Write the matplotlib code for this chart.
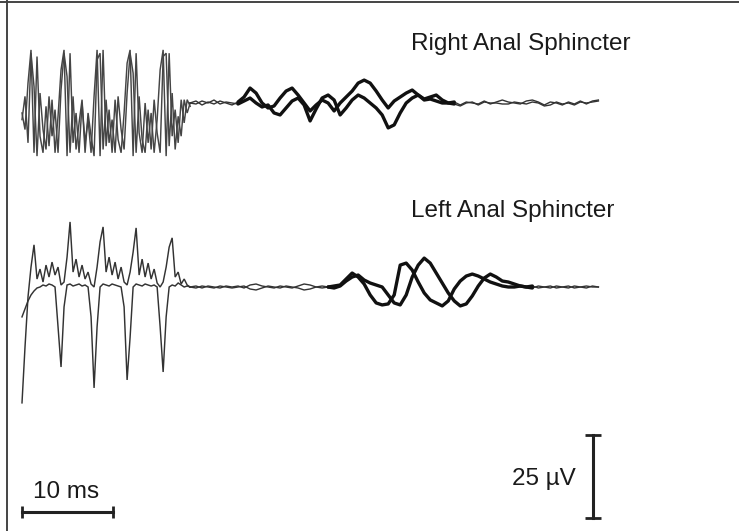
import matplotlib
matplotlib.use("Agg")
import matplotlib.pyplot as plt
import numpy as np

plt.rcParams["font.family"] = ["Liberation Sans", "DejaVu Sans"]

# sampling of the digitised sweeps (ms between samples)
DT_ART = 0.33    # stimulus artefact part
DT_POST = 0.66   # after the artefact
T_POST0 = 18.46  # ms where the artefact ends

# amplitudes in microvolts, relative to each trace's baseline
# right anal sphincter, two superimposed sweeps
right_art_a = [-3, -8, 6, 16, -15, 14, -10, -15, -1, -13,
               1, -15, -4, 10, 16, -16, 15, -12, -3, -15,
               0, -12, -5, -15, 2, 16, -16, 16, -13, -2,
               -15, 1, -11, -15, -3, 12, 16, -16, 15, -9,
               -15, 0, -12, -3, -15, -5, 10, 16, -16, 15,
               -10, -2, -12, 1, -6, 1, -1]
right_art_b = [-5, 2, -12, 15, 5, -16, 3, -8, -14, 2,
               -10, -2, -15, 4, 15, 8, -15, 2, -14, -6,
               1, -15, -3, -10, -16, 13, 15, -14, 1, -12,
               -5, -15, 2, -8, -14, 3, 15, 9, -15, 2,
               -11, -15, -2, -14, 1, -9, -15, 14, 15, -13,
               3, -14, -4, -10, 1, -3, 0]
right_post_a = [0, 0.6, -0.6, 0.3, -0.3, 0.6, 0, -0.6, 0.3, 1.8,
                4.5, 3.0, 0, -1.5, -0.9, 1.5, 3.6, 4.5, 2.4, 0,
                -2.4, -0.6, 0.9, 0, -2.4, 0, 1.8, 3.6, 6.0, 6.9,
                6.0, 3.6, 0.9, -1.5, 0.6, 1.8, 3.0, 3.9, 2.4, 1.2,
                1.8, 2.4, 0.9, 0,
                0.3, -0.6, 0.3, 0, -0.3, 0.6, -0.3, 0.3, 0.9, 0.3,
                0, -0.3, 0.6, 0.9, 0.3, -0.6, 0.3, 0, -0.6, 0.3,
                -0.3, 0.6, -0.3, 0.6, 0.9]
right_post_b = [0, -0.3, 0.6, 0, 0.9, -0.3, 0.3, 0, -0.3, 0.6,
                1.5, 0, -1.2, -0.6, -3.0, -3.6, -1.5, 0.6, 1.5, -0.6,
                -5.4, -1.8, 1.5, 2.4, 0.9, -3.6, -1.5, 0.9, 2.4, 1.5,
                0, -1.5, -3.6, -7.5, -6.6, -3.0, 0, 1.5, 2.4, 0.9,
                1.2, 0.6, 0, 0,
                -0.3, -0.9, 0, 0.3, -0.6, 0.3, 0, 0, -0.3, -0.3,
                0.3, 0, -0.3, 0.3, 0, -0.9, -0.6, 0.3, -0.3, 0,
                -0.6, 0.3, 0, 0.3, 0.6]

# left anal sphincter
left_art_a = [-34.9, -18.1, -3.0, 6.0, 12.7, 2.4, 5.4, 1.5, 6.6, 3.0,
              7.5, 3.6, 6.0, 0.6, 1.5, 9.0, 19.6, 4.5, 8.4, 3.0,
              6.6, 2.4, 4.5, 0.9, 0, 6.0, 13.6, 18.1, 4.5, 9.0,
              3.6, 7.5, 2.4, 6.0, 1.5, 0.6, 4.5, 10.5, 17.8, 3.6,
              8.4, 3.0, 7.2, 2.4, 5.4, 1.2, 0, 1.5, 6.0, 12.0,
              14.8, 3.0, 4.5, 0.9, 2.4, 0.6, 0]
left_art_b = [-9.0, -6.6, -4.2, -2.4, -1.2, -0.3, 0, 0.6, 0.3, 0.9,
              0.6, 0, -12.0, -24.1, -6.0, 0.6, 0.9, 0.3, 0.6, 0.9,
              0.3, 0.6, 0, -9.0, -30.4, -12.0, 0, 0.9, 0.6, 0.3,
              0.9, 0.6, 0.3, 0, -6.0, -28.0, -15.1, 0, 0.9, 0.6,
              0.3, 0.9, 0.6, 0.3, 0.6, 0, -12.0, -25.6, -9.0, 0,
              0.6, 0.3, 1.2, 0.6, 0, 0.3, 0]
left_post_a = [0, 0.3, -0.3, 0.3, 0, -0.3, 0.3, 0, 0.3, -0.3,
               0.6, 0.9, 0.3, 0, -0.3, 0.3, 0, -0.3, 0.3, 0.9,
               0.6, 0, -0.3, 0, 0.3, 0.6, 2.4, 4.2, 3.0, 0.9,
               -2.4, -4.8, -5.4, -5.1, -2.4, 6.6, 7.2, 5.1, 1.5, -1.8,
               -3.9, -4.8, -5.7, -4.2, -0.6, 1.8, 3.3, 3.9, 3.3, 2.4,
               1.5, 0.9, 0.3, 0, 0, 0.3, 0, -0.3, 0.3, 0,
               -0.3, 0.3, 0, 0.3, -0.3, 0, 0.3, 0, 0]
left_post_b = [0, -0.3, 0.3, 0, -0.3, 0.3, 0, -0.3, 0, 0.3,
               -0.6, -0.9, -0.3, 0.3, 0, -0.3, 0.3, 0, -0.3, -0.9,
               -0.6, 0, 0.3, 0, -0.3, 0.3, 1.8, 3.0, 3.6, 2.1,
               1.2, 0.6, 0, -2.4, -4.8, -5.4, -2.4, 3.0, 6.6, 8.7,
               7.2, 4.2, 1.2, -1.8, -4.2, -5.7, -5.1, -2.7, 0.3, 2.7,
               3.9, 3.0, 1.8, 1.5, 0.9, 0.3, 0, 0.3, -0.3, 0,
               0.3, -0.3, 0, -0.3, 0.3, 0, -0.3, 0.3, 0]

labels = ["Right Anal Sphincter", "Left Anal Sphincter"]
SCALE_MS = 10
SCALE_UV = 25

# layout (figure is drawn in ms / uV)
PX_MS = 9.1
PX_UV = 3.32
W, H = 739, 531
X0 = 22                       # pixel of t = 0
BASE = [(H - 103) / PX_UV, (H - 287) / PX_UV]
RESP = [(23.5, 47.5), (33.0, 56.5)]

fig = plt.figure(figsize=(W / 100, H / 100), dpi=100)
ax = fig.add_axes([0, 0, 1, 1])
ax.set_xlim(-X0 / PX_MS, (W - X0) / PX_MS)
ax.set_ylim(0, H / PX_UV)
ax.axis("off")

traces = [(right_art_a, right_art_b, right_post_a, right_post_b),
          (left_art_a, left_art_b, left_post_a, left_post_b)]
art_col = ["#454545", "#333333"]

for k, (aa, ab, pa, pb) in enumerate(traces):
    base = BASE[k]
    t_art = np.arange(len(aa)) * DT_ART
    t_post = T_POST0 + np.arange(len(pa)) * DT_POST
    for art in (aa, ab):
        ax.plot(t_art, base + np.array(art), color=art_col[k], lw=1.05,
                solid_joinstyle="miter")
    lo, hi = RESP[k]
    m = (t_post >= lo) & (t_post <= hi)
    for post in (pa, pb):
        y = base + np.array(post)
        ax.plot(t_post, y, color="#333333", lw=1.0)
        ax.plot(t_post[m], y[m], color="#111111", lw=2.4,
                solid_capstyle="round")

# labels
ax.text((411 - X0) / PX_MS, (H - 50) / PX_UV, labels[0], fontsize=17.5,
        color="#1a1a1a", va="baseline")
ax.text((411 - X0) / PX_MS, (H - 217) / PX_UV, labels[1], fontsize=17.5,
        color="#1a1a1a", va="baseline")

# time scale bar
yb = (H - 512) / PX_UV
ax.plot([0, SCALE_MS], [yb, yb], color="#222222", lw=2.2)
ax.plot([0, SCALE_MS], [yb, yb], ls="none", marker="|", ms=8, mew=2,
        color="#222222")
ax.text(1.2, (H - 498) / PX_UV, f"{SCALE_MS} ms", fontsize=17.5,
        color="#1a1a1a", va="baseline")

# amplitude scale bar
xb = (593 - X0) / PX_MS
yb0 = (H - 518) / PX_UV
ax.plot([xb, xb], [yb0, yb0 + SCALE_UV], color="#222222", lw=2.2)
ax.plot([xb, xb], [yb0, yb0 + SCALE_UV], ls="none", marker="_", ms=11,
        mew=2, color="#222222")
ax.text((512 - X0) / PX_MS, (H - 485) / PX_UV, f"{SCALE_UV} \u00b5V",
        fontsize=17.5, color="#1a1a1a", va="baseline")

# frame lines (top and left only)
fig.add_artist(plt.Line2D([0, 1], [1 - 2 / H, 1 - 2 / H], color="#444444",
                          lw=1.4))
fig.add_artist(plt.Line2D([7 / W, 7 / W], [0, 1], color="#444444", lw=1.4))

fig.savefig("out.png", dpi=100, facecolor="white")
